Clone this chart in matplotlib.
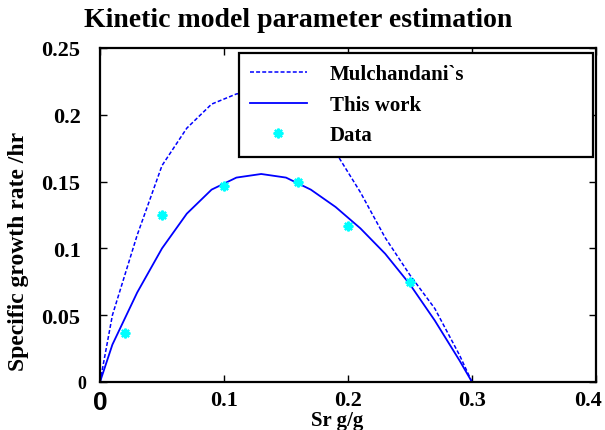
import matplotlib
matplotlib.use('Agg')
import matplotlib.pyplot as plt
import matplotlib.transforms as mtransforms

# ---- data ----
x_curve = [0, 0.01, 0.03, 0.05, 0.07, 0.09, 0.11, 0.13, 0.15, 0.17,
           0.19, 0.21, 0.23, 0.25, 0.27, 0.29, 0.30]
y_mulchandani = [0, 0.050, 0.110, 0.162, 0.190, 0.208, 0.2156, 0.218, 0.214,
                 0.198, 0.172, 0.142, 0.108, 0.080, 0.055, 0.020, 0]
y_this_work = [0, 0.028, 0.067, 0.100, 0.126, 0.144, 0.153, 0.1557, 0.153,
               0.144, 0.131, 0.115, 0.096, 0.073, 0.046, 0.016, 0]
x_data = [0.02, 0.05, 0.10, 0.16, 0.20, 0.25]
y_data = [0.037, 0.125, 0.147, 0.150, 0.117, 0.075]

xticks = [0, 0.1, 0.2, 0.3, 0.4]
xticklabels = ['0', '0.1', '0.2', '0.3', '0.4']
yticks = [0, 0.05, 0.1, 0.15, 0.2, 0.25]
yticklabels = ['0', '0.05', '0.1', '0.15', '0.2', '0.25']

series_labels = ["Mulchandani`s", "This work", "Data"]
title = "Kinetic model parameter estimation"
xlabel = "Sr g/g"
ylabel = "Specific growth rate /hr"

plt.rcParams['font.family'] = ['Liberation Serif', 'DejaVu Serif']
plt.rcParams['font.weight'] = 'bold'

W, H = 605, 431
fig = plt.figure(figsize=(W / 100, H / 100), dpi=100)
ax = fig.add_axes([100 / W, 48 / H, 496 / W, 334 / H])

ax.plot(x_curve, y_mulchandani, color='#0000ff', lw=1.1, dashes=(2.6, 1.4),
        label=series_labels[0])
ax.plot(x_curve, y_this_work, color='#0000ff', lw=1.3, label=series_labels[1])
ax.plot(x_data, y_data, ls='none', marker=(8, 2, 0), ms=7, mew=1.6,
        color='#00ffff', label=series_labels[2])

ax.set_xlim(0, 0.4)
ax.set_ylim(0, 0.25)
ax.set_xticks(xticks)
ax.set_xticklabels(xticklabels)
ax.set_yticks(yticks)
ax.set_yticklabels(yticklabels)
ax.tick_params(direction='in', length=5, width=1, top=True, right=True,
               labelsize=16)
ax.tick_params(axis='x', pad=6)
ax.tick_params(axis='y', pad=14)
for lab in ax.get_xticklabels():
    lab.set_fontweight('bold')
for lab in ax.get_yticklabels():
    lab.set_fontweight('bold')
x0 = ax.get_xticklabels()[0]
x0.set_fontfamily(['Liberation Sans', 'DejaVu Sans'])
x0.set_fontsize(19)
xlast = ax.get_xticklabels()[-1]
xlast.set_horizontalalignment('right')
xlast.set_transform(xlast.get_transform() +
                    mtransforms.ScaledTranslation(6 / 100, 0, fig.dpi_scale_trans))
y0 = ax.get_yticklabels()[0]
y0.set_fontsize(13)
y0.set_transform(y0.get_transform() +
                 mtransforms.ScaledTranslation(6 / 100, 0, fig.dpi_scale_trans))

for s in ax.spines.values():
    s.set_linewidth(1.6)

leg = ax.legend(loc='upper left', bbox_to_anchor=(0.28, 0.674, 0.714, 0.311),
                mode='expand', fontsize=15, frameon=True, fancybox=False,
                edgecolor='black', framealpha=1, borderpad=0.55,
                labelspacing=0.5, handlelength=2.7, handletextpad=1.1,
                numpoints=1, borderaxespad=0)
leg.get_frame().set_linewidth(1.6)
for t in leg.get_texts():
    t.set_fontweight('bold')

fig.text(298 / W, 1 - 27 / H, title, ha='center', va='baseline',
         fontsize=20, fontweight='bold')
fig.text(19 / W, 1 - 251 / H, ylabel, ha='center', va='center',
         rotation=90, fontsize=17, fontweight='bold')
fig.text(337 / W, 1 - 426 / H, xlabel, ha='center', va='baseline',
         fontsize=15, fontweight='bold')

fig.savefig('out.png', dpi=100)
